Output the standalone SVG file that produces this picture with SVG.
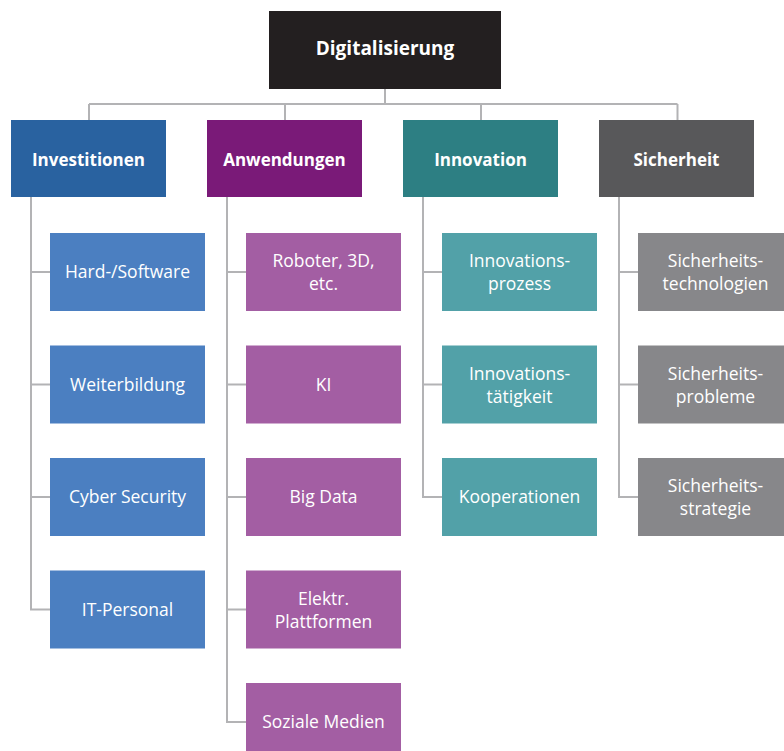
<svg xmlns="http://www.w3.org/2000/svg" width="784" height="751" viewBox="0 0 784 751">
<style>
.t{font-family:"Open Sans","Noto Sans","Liberation Sans",sans-serif;fill:#ffffff;text-anchor:middle;dominant-baseline:central}
.b{font-weight:bold;font-size:17px}
.s{font-size:17.5px}
.c{fill:none;stroke:#b3b3b5;stroke-width:2}
</style>
<rect width="784" height="751" fill="#ffffff"/>
<g id="connectors" class="c">
<path d="M385 88V104M89 104H677.5M89 104V120M285 104V120M481 104V120M677.5 104V120"/>
<path d="M31 197V609.5H50M31 272H50M31 384.5H50M31 497H50"/>
<path d="M227 197V722H246M227 272H246M227 384.5H246M227 497H246M227 609.5H246"/>
<path d="M423 197V497H442M423 272H442M423 384.5H442"/>
<path d="M619 197V497H638M619 272H638M619 384.5H638"/>
</g>
<g id="digitalisierung"><rect x="269" y="11" width="232" height="78" fill="#231f20"/><text class="t b" x="385" y="48" style="font-size:19px">Digitalisierung</text></g>
<g id="investitionen"><rect x="11" y="120" width="155" height="77" fill="#2962a0"/><text class="t b" x="88.5" y="159">Investitionen</text></g>
<g id="anwendungen"><rect x="207" y="120" width="155" height="77" fill="#7a1a78"/><text class="t b" x="284.5" y="159">Anwendungen</text></g>
<g id="innovation"><rect x="403" y="120" width="155" height="77" fill="#2d7f83"/><text class="t b" x="480.5" y="159">Innovation</text></g>
<g id="sicherheit"><rect x="599" y="120" width="155" height="77" fill="#58585a"/><text class="t b" x="676.5" y="159">Sicherheit</text></g>

<g id="hardsoftware"><rect x="50" y="233" width="155" height="78" fill="#4b7fc1"/><text class="t s" x="127.5" y="271">Hard-/Software</text></g>
<g id="weiterbildung"><rect x="50" y="345.5" width="155" height="78" fill="#4b7fc1"/><text class="t s" x="127.5" y="383.5">Weiterbildung</text></g>
<g id="cybersecurity"><rect x="50" y="458" width="155" height="78" fill="#4b7fc1"/><text class="t s" x="127.5" y="496">Cyber Security</text></g>
<g id="itpersonal"><rect x="50" y="570.5" width="155" height="78" fill="#4b7fc1"/><text class="t s" x="127.5" y="608.5">IT-Personal</text></g>

<g id="roboter"><rect x="246" y="233" width="155" height="78" fill="#a35ea3"/><text class="t s" x="323.5" y="260">Roboter, 3D,</text><text class="t s" x="323.5" y="283">etc.</text></g>
<g id="ki"><rect x="246" y="345.5" width="155" height="78" fill="#a35ea3"/><text class="t s" x="323.5" y="383.5">KI</text></g>
<g id="bigdata"><rect x="246" y="458" width="155" height="78" fill="#a35ea3"/><text class="t s" x="323.5" y="496">Big Data</text></g>
<g id="plattformen"><rect x="246" y="570.5" width="155" height="78" fill="#a35ea3"/><text class="t s" x="323.5" y="597.5">Elektr.</text><text class="t s" x="323.5" y="620.5">Plattformen</text></g>
<g id="sozialemedien"><rect x="246" y="683" width="155" height="78" fill="#a35ea3"/><text class="t s" x="323.5" y="721">Soziale Medien</text></g>

<g id="innovationsprozess"><rect x="442" y="233" width="155" height="78" fill="#52a1a8"/><text class="t s" x="519.5" y="260">Innovations-</text><text class="t s" x="519.5" y="283">prozess</text></g>
<g id="innovationstaetigkeit"><rect x="442" y="345.5" width="155" height="78" fill="#52a1a8"/><text class="t s" x="519.5" y="372.5">Innovations-</text><text class="t s" x="519.5" y="395.5">tätigkeit</text></g>
<g id="kooperationen"><rect x="442" y="458" width="155" height="78" fill="#52a1a8"/><text class="t s" x="519.5" y="496">Kooperationen</text></g>

<g id="sicherheitstechnologien"><rect x="638" y="233" width="155" height="78" fill="#87878a"/><text class="t s" x="715.5" y="260">Sicherheits-</text><text class="t s" x="715.5" y="283">technologien</text></g>
<g id="sicherheitsprobleme"><rect x="638" y="345.5" width="155" height="78" fill="#87878a"/><text class="t s" x="715.5" y="372.5">Sicherheits-</text><text class="t s" x="715.5" y="395.5">probleme</text></g>
<g id="sicherheitsstrategie"><rect x="638" y="458" width="155" height="78" fill="#87878a"/><text class="t s" x="715.5" y="485">Sicherheits-</text><text class="t s" x="715.5" y="508">strategie</text></g>
</svg>
